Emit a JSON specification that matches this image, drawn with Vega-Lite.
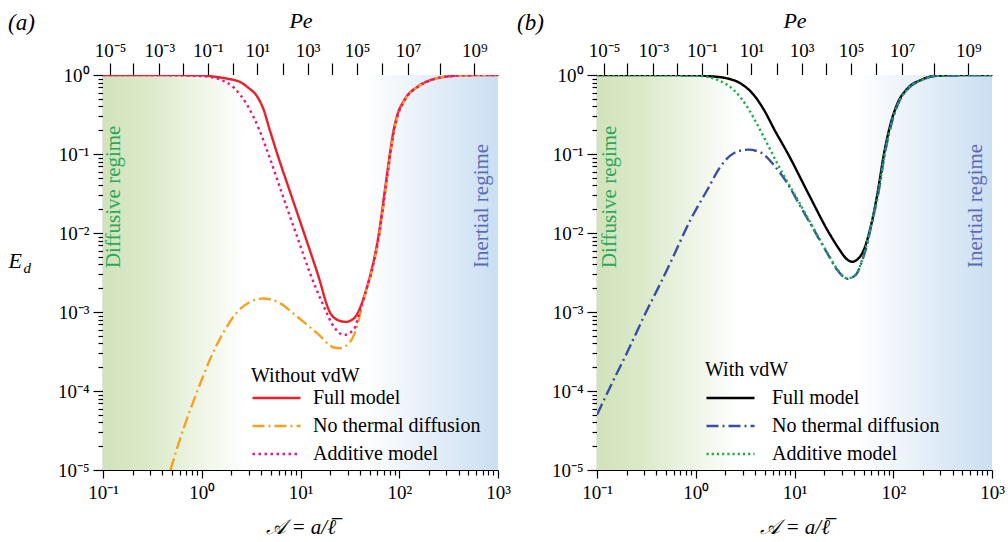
{
"$schema": "https://vega.github.io/schema/vega-lite/v6.json",
"padding": {"left": 8, "top": 9, "right": 0, "bottom": 4},
"background": "white",
"config": {
 "font": "Liberation Serif",
 "view": {"stroke": null},
 "axis": {"labelFont": "Liberation Serif", "titleFont": "Liberation Serif", "labelColor": "black", "titleColor": "black", "domainColor": "black", "tickColor": "black", "grid": false, "labelFontSize": 19, "titleFontSize": 21, "titleFontWeight": "normal", "zindex": 1, "labelFlush": false, "labelOverlap": false, "tickWidth": 1.2, "domainWidth": 1.2},
 "legend": {"labelFont": "Liberation Serif", "titleFont": "Liberation Serif", "labelFontSize": 20, "titleFontSize": 20, "titleFontWeight": "normal", "labelColor": "black", "titleColor": "black", "symbolType": "stroke", "symbolSize": 2304, "symbolStrokeWidth": 2.5, "padding": 0, "rowPadding": 8, "clipHeight": 20, "labelLimit": 0},
 "title": {"font": "Liberation Serif", "fontSize": 23, "fontWeight": "normal", "fontStyle": "italic", "color": "black"}
},
"datasets": {
 "bg": [{"A0": 0.1, "A1": 1000, "E0": 0.00001, "E1": 1}],
 "labels": [
  {"p": "a", "label": "Diffusive regime", "A": 0.13, "E": 0.0036},
  {"p": "a", "label": "Inertial regime", "A": 695, "E": 0.0036},
  {"p": "b", "label": "Diffusive regime", "A": 0.134, "E": 0.0036},
  {"p": "b", "label": "Inertial regime", "A": 690, "E": 0.0036}
 ],
 "curves": [
  {"p":"a","s":"Full model","A":0.1,"E":1},
  {"p":"a","s":"Full model","A":0.316,"E":1},
  {"p":"a","s":"Full model","A":1,"E":0.989},
  {"p":"a","s":"Full model","A":1.318,"E":0.955},
  {"p":"a","s":"Full model","A":1.778,"E":0.902},
  {"p":"a","s":"Full model","A":2.455,"E":0.813},
  {"p":"a","s":"Full model","A":2.951,"E":0.692},
  {"p":"a","s":"Full model","A":3.631,"E":0.537},
  {"p":"a","s":"Full model","A":4.266,"E":0.355},
  {"p":"a","s":"Full model","A":4.786,"E":0.219},
  {"p":"a","s":"Full model","A":5.821,"E":0.1},
  {"p":"a","s":"Full model","A":7.943,"E":0.0316},
  {"p":"a","s":"Full model","A":10.86,"E":0.01},
  {"p":"a","s":"Full model","A":14.79,"E":0.00316},
  {"p":"a","s":"Full model","A":20.18,"E":0.000955},
  {"p":"a","s":"Full model","A":22.91,"E":0.000813},
  {"p":"a","s":"Full model","A":28.64,"E":0.00075},
  {"p":"a","s":"Full model","A":34.83,"E":0.000832},
  {"p":"a","s":"Full model","A":40.64,"E":0.001175},
  {"p":"a","s":"Full model","A":45.71,"E":0.00182},
  {"p":"a","s":"Full model","A":51.4,"E":0.00309},
  {"p":"a","s":"Full model","A":62.37,"E":0.01},
  {"p":"a","s":"Full model","A":70.79,"E":0.0316},
  {"p":"a","s":"Full model","A":80.35,"E":0.1},
  {"p":"a","s":"Full model","A":87.1,"E":0.1905},
  {"p":"a","s":"Full model","A":94.41,"E":0.295},
  {"p":"a","s":"Full model","A":112.2,"E":0.479},
  {"p":"a","s":"Full model","A":153.1,"E":0.711},
  {"p":"a","s":"Full model","A":208.9,"E":0.865},
  {"p":"a","s":"Full model","A":309,"E":0.959},
  {"p":"a","s":"Full model","A":489.8,"E":0.993},
  {"p":"a","s":"Full model","A":1000,"E":1},

  {"p":"a","s":"No thermal diffusion","A":0.482,"E":0.00001},
  {"p":"a","s":"No thermal diffusion","A":0.656,"E":0.0000339},
  {"p":"a","s":"No thermal diffusion","A":0.897,"E":0.0000977},
  {"p":"a","s":"No thermal diffusion","A":1.225,"E":0.000259},
  {"p":"a","s":"No thermal diffusion","A":1.671,"E":0.000562},
  {"p":"a","s":"No thermal diffusion","A":2.286,"E":0.001},
  {"p":"a","s":"No thermal diffusion","A":3.119,"E":0.001349},
  {"p":"a","s":"No thermal diffusion","A":4.169,"E":0.001479},
  {"p":"a","s":"No thermal diffusion","A":5.821,"E":0.001349},
  {"p":"a","s":"No thermal diffusion","A":9.268,"E":0.000871},
  {"p":"a","s":"No thermal diffusion","A":14.79,"E":0.000537},
  {"p":"a","s":"No thermal diffusion","A":21.83,"E":0.000355},
  {"p":"a","s":"No thermal diffusion","A":25.12,"E":0.000347},
  {"p":"a","s":"No thermal diffusion","A":28.84,"E":0.000372},
  {"p":"a","s":"No thermal diffusion","A":34.83,"E":0.000513},
  {"p":"a","s":"No thermal diffusion","A":40.74,"E":0.001},
  {"p":"a","s":"No thermal diffusion","A":45.71,"E":0.00174},
  {"p":"a","s":"No thermal diffusion","A":52.17,"E":0.00309},
  {"p":"a","s":"No thermal diffusion","A":63.3,"E":0.01},
  {"p":"a","s":"No thermal diffusion","A":71.85,"E":0.0316},
  {"p":"a","s":"No thermal diffusion","A":81.56,"E":0.1},
  {"p":"a","s":"No thermal diffusion","A":88.4,"E":0.1905},
  {"p":"a","s":"No thermal diffusion","A":95.83,"E":0.295},
  {"p":"a","s":"No thermal diffusion","A":113.9,"E":0.479},
  {"p":"a","s":"No thermal diffusion","A":155.4,"E":0.711},
  {"p":"a","s":"No thermal diffusion","A":212,"E":0.865},
  {"p":"a","s":"No thermal diffusion","A":313.6,"E":0.959},
  {"p":"a","s":"No thermal diffusion","A":497.1,"E":0.993},
  {"p":"a","s":"No thermal diffusion","A":1000,"E":1},

  {"p":"a","s":"Additive model","A":0.1,"E":1},
  {"p":"a","s":"Additive model","A":0.316,"E":0.998},
  {"p":"a","s":"Additive model","A":1,"E":0.97},
  {"p":"a","s":"Additive model","A":1.549,"E":0.871},
  {"p":"a","s":"Additive model","A":2.113,"E":0.692},
  {"p":"a","s":"Additive model","A":2.884,"E":0.417},
  {"p":"a","s":"Additive model","A":3.784,"E":0.209},
  {"p":"a","s":"Additive model","A":4.977,"E":0.0832},
  {"p":"a","s":"Additive model","A":6.792,"E":0.0269},
  {"p":"a","s":"Additive model","A":9.268,"E":0.00891},
  {"p":"a","s":"Additive model","A":12.59,"E":0.00302},
  {"p":"a","s":"Additive model","A":17.26,"E":0.00117},
  {"p":"a","s":"Additive model","A":21.83,"E":0.000646},
  {"p":"a","s":"Additive model","A":27.54,"E":0.000513},
  {"p":"a","s":"Additive model","A":34.67,"E":0.000603},
  {"p":"a","s":"Additive model","A":40.74,"E":0.00112},
  {"p":"a","s":"Additive model","A":45.71,"E":0.0018},
  {"p":"a","s":"Additive model","A":51.91,"E":0.00309},
  {"p":"a","s":"Additive model","A":62.99,"E":0.01},
  {"p":"a","s":"Additive model","A":71.5,"E":0.0316},
  {"p":"a","s":"Additive model","A":81.15,"E":0.1},
  {"p":"a","s":"Additive model","A":87.97,"E":0.1905},
  {"p":"a","s":"Additive model","A":95.35,"E":0.295},
  {"p":"a","s":"Additive model","A":113.3,"E":0.479},
  {"p":"a","s":"Additive model","A":154.6,"E":0.711},
  {"p":"a","s":"Additive model","A":211,"E":0.865},
  {"p":"a","s":"Additive model","A":312,"E":0.959},
  {"p":"a","s":"Additive model","A":494.7,"E":0.993},
  {"p":"a","s":"Additive model","A":1000,"E":1},

  {"p":"b","s":"Full model","A":0.1,"E":1},
  {"p":"b","s":"Full model","A":1,"E":0.993},
  {"p":"b","s":"Full model","A":1.306,"E":0.971},
  {"p":"b","s":"Full model","A":2.08,"E":0.906},
  {"p":"b","s":"Full model","A":2.838,"E":0.783},
  {"p":"b","s":"Full model","A":3.873,"E":0.558},
  {"p":"b","s":"Full model","A":4.898,"E":0.363},
  {"p":"b","s":"Full model","A":6.31,"E":0.1995},
  {"p":"b","s":"Full model","A":8.61,"E":0.1},
  {"p":"b","s":"Full model","A":13.8,"E":0.0316},
  {"p":"b","s":"Full model","A":22.39,"E":0.01},
  {"p":"b","s":"Full model","A":28.18,"E":0.00631},
  {"p":"b","s":"Full model","A":33.11,"E":0.00479},
  {"p":"b","s":"Full model","A":38.55,"E":0.00432},
  {"p":"b","s":"Full model","A":43.65,"E":0.00468},
  {"p":"b","s":"Full model","A":48.75,"E":0.00562},
  {"p":"b","s":"Full model","A":59.16,"E":0.012},
  {"p":"b","s":"Full model","A":69.18,"E":0.0316},
  {"p":"b","s":"Full model","A":80.72,"E":0.102},
  {"p":"b","s":"Full model","A":94.41,"E":0.245},
  {"p":"b","s":"Full model","A":110.4,"E":0.437},
  {"p":"b","s":"Full model","A":139.3,"E":0.676},
  {"p":"b","s":"Full model","A":190.5,"E":0.865},
  {"p":"b","s":"Full model","A":257,"E":0.971},
  {"p":"b","s":"Full model","A":398,"E":0.993},
  {"p":"b","s":"Full model","A":1000,"E":1},

  {"p":"b","s":"No thermal diffusion","A":0.1,"E":0.0000501},
  {"p":"b","s":"No thermal diffusion","A":0.13,"E":0.0001},
  {"p":"b","s":"No thermal diffusion","A":0.204,"E":0.000316},
  {"p":"b","s":"No thermal diffusion","A":0.314,"E":0.001},
  {"p":"b","s":"No thermal diffusion","A":0.407,"E":0.001905},
  {"p":"b","s":"No thermal diffusion","A":0.562,"E":0.00437},
  {"p":"b","s":"No thermal diffusion","A":0.883,"E":0.01462},
  {"p":"b","s":"No thermal diffusion","A":1.306,"E":0.035},
  {"p":"b","s":"No thermal diffusion","A":1.778,"E":0.0692},
  {"p":"b","s":"No thermal diffusion","A":2.427,"E":0.1023},
  {"p":"b","s":"No thermal diffusion","A":3.388,"E":0.1135},
  {"p":"b","s":"No thermal diffusion","A":4.529,"E":0.1047},
  {"p":"b","s":"No thermal diffusion","A":6.18,"E":0.0724},
  {"p":"b","s":"No thermal diffusion","A":8.453,"E":0.0427},
  {"p":"b","s":"No thermal diffusion","A":11.53,"E":0.02153},
  {"p":"b","s":"No thermal diffusion","A":15.74,"E":0.01096},
  {"p":"b","s":"No thermal diffusion","A":21.53,"E":0.0055},
  {"p":"b","s":"No thermal diffusion","A":27.16,"E":0.00339},
  {"p":"b","s":"No thermal diffusion","A":34.28,"E":0.00263},
  {"p":"b","s":"No thermal diffusion","A":41.69,"E":0.00295},
  {"p":"b","s":"No thermal diffusion","A":48.75,"E":0.00457},
  {"p":"b","s":"No thermal diffusion","A":54.95,"E":0.0076},
  {"p":"b","s":"No thermal diffusion","A":59.16,"E":0.0117},
  {"p":"b","s":"No thermal diffusion","A":70.56,"E":0.0316},
  {"p":"b","s":"No thermal diffusion","A":82.33,"E":0.102},
  {"p":"b","s":"No thermal diffusion","A":96.3,"E":0.245},
  {"p":"b","s":"No thermal diffusion","A":112.6,"E":0.437},
  {"p":"b","s":"No thermal diffusion","A":142.1,"E":0.676},
  {"p":"b","s":"No thermal diffusion","A":194.3,"E":0.865},
  {"p":"b","s":"No thermal diffusion","A":262.1,"E":0.971},
  {"p":"b","s":"No thermal diffusion","A":406,"E":0.993},
  {"p":"b","s":"No thermal diffusion","A":1000,"E":1},

  {"p":"b","s":"Additive model","A":0.1,"E":1},
  {"p":"b","s":"Additive model","A":1,"E":0.986},
  {"p":"b","s":"Additive model","A":1.648,"E":0.871},
  {"p":"b","s":"Additive model","A":2.427,"E":0.646},
  {"p":"b","s":"Additive model","A":3.311,"E":0.398},
  {"p":"b","s":"Additive model","A":4.169,"E":0.24},
  {"p":"b","s":"Additive model","A":5.297,"E":0.135},
  {"p":"b","s":"Additive model","A":6.699,"E":0.0759},
  {"p":"b","s":"Additive model","A":8.453,"E":0.0447},
  {"p":"b","s":"Additive model","A":10.72,"E":0.0266},
  {"p":"b","s":"Additive model","A":15.74,"E":0.01122},
  {"p":"b","s":"Additive model","A":21.53,"E":0.00562},
  {"p":"b","s":"Additive model","A":27.16,"E":0.00347},
  {"p":"b","s":"Additive model","A":34.28,"E":0.00266},
  {"p":"b","s":"Additive model","A":41.69,"E":0.00299},
  {"p":"b","s":"Additive model","A":48.75,"E":0.00468},
  {"p":"b","s":"Additive model","A":54.95,"E":0.00794},
  {"p":"b","s":"Additive model","A":59.16,"E":0.012},
  {"p":"b","s":"Additive model","A":70.22,"E":0.0316},
  {"p":"b","s":"Additive model","A":81.93,"E":0.102},
  {"p":"b","s":"Additive model","A":95.83,"E":0.245},
  {"p":"b","s":"Additive model","A":112.1,"E":0.437},
  {"p":"b","s":"Additive model","A":141.4,"E":0.676},
  {"p":"b","s":"Additive model","A":193.4,"E":0.865},
  {"p":"b","s":"Additive model","A":260.9,"E":0.971},
  {"p":"b","s":"Additive model","A":404,"E":0.993},
  {"p":"b","s":"Additive model","A":1000,"E":1}
 ]
},
"bounds": "flush",
"spacing": 99,
"resolve": {"scale": {"color": "independent", "strokeDash": "independent"}, "legend": {"color": "independent", "strokeDash": "independent"}},
"hconcat": [
 {
  "width": 395, "height": 395,
  "title": {"text": "(a)", "anchor": "start", "frame": "group", "dx": -95, "dy": 30},
  "resolve": {"axis": {"x": "independent", "y": "independent"}},
  "layer": [
   {
    "data": {"name": "bg"},
    "mark": {"type": "rect", "fill": {"gradient": "linear", "x1": 0, "y1": 0, "x2": 1, "y2": 0, "stops": [{"offset": 0, "color": "#d1e3ba"}, {"offset": 0.12, "color": "#dceacb"}, {"offset": 0.36, "color": "#ffffff"}, {"offset": 0.66, "color": "#ffffff"}, {"offset": 0.82, "color": "#e6eff8"}, {"offset": 1, "color": "#cadff2"}]}},
    "encoding": {
     "x": {"field": "A0", "type": "quantitative", "scale": {"type": "log", "domain": [0.1, 1000], "nice": false}, "axis": {"orient": "bottom", "values": [0.2,0.3,0.4,0.5,0.6,0.7,0.8,0.9,2,3,4,5,6,7,8,9,20,30,40,50,60,70,80,90,200,300,400,500,600,700,800,900], "labels": false, "domain": false, "tickSize": 5, "title": null}},
     "x2": {"field": "A1"},
     "y": {"field": "E0", "type": "quantitative", "scale": {"type": "log", "domain": [0.00001, 1], "nice": false}, "axis": {"orient": "left", "values": [0.00002,0.00003,0.00004,0.00005,0.00006,0.00007,0.00008,0.00009,0.0002,0.0003,0.0004,0.0005,0.0006,0.0007,0.0008,0.0009,0.002,0.003,0.004,0.005,0.006,0.007,0.008,0.009,0.02,0.03,0.04,0.05,0.06,0.07,0.08,0.09,0.2,0.3,0.4,0.5,0.6,0.7,0.8,0.9], "labels": false, "domain": false, "tickSize": 5, "title": "d", "titleAngle": 0, "titleAlign": "left", "titleBaseline": "middle", "titleX": -80, "titleY": 192, "titleFontSize": 15, "titleFontStyle": "italic"}},
     "y2": {"field": "E1"}
    }
   },
   {
    "data": {"name": "curves"},
    "transform": [{"filter": "datum.p === 'a'"}],
    "mark": {"type": "line", "strokeWidth": 2.4, "clip": true, "interpolate": "monotone"},
    "encoding": {
     "x": {"field": "A", "type": "quantitative", "scale": {"type": "log", "domain": [0.1, 1000], "nice": false}, "axis": {"orient": "bottom", "values": [0.1, 1, 10, 100, 1000], "labelExpr": "'10' + (datum.value < 0.5 ? '⁻¹' : datum.value < 5 ? '⁰' : datum.value < 50 ? '¹' : datum.value < 500 ? '²' : '³')", "tickSize": 8, "labelPadding": 5, "title": "𝒜 = a/ℓ̅", "titleFontStyle": "italic", "titlePadding": 14}},
     "y": {"field": "E", "type": "quantitative", "scale": {"type": "log", "domain": [0.00001, 1], "nice": false}, "axis": {"orient": "left", "values": [0.00001, 0.0001, 0.001, 0.01, 0.1, 1], "labelExpr": "'10' + (datum.value > 0.5 ? '⁰' : datum.value > 0.05 ? '⁻¹' : datum.value > 0.005 ? '⁻²' : datum.value > 0.0005 ? '⁻³' : datum.value > 0.00005 ? '⁻⁴' : '⁻⁵')", "tickSize": 10, "labelPadding": 4, "title": "E", "titleAngle": 0, "titleAlign": "left", "titleBaseline": "middle", "titleX": -95, "titleY": 185, "titleFontSize": 22, "titleFontStyle": "italic"}},
     "color": {"field": "s", "type": "nominal", "scale": {"domain": ["Full model", "No thermal diffusion", "Additive model"], "range": ["#e8202a", "#f6a21e", "#e8177d"]}, "legend": {"title": "Without vdW", "orient": "none", "legendX": 148, "legendY": 291, "titlePadding": 2, "labelOffset": 11}},
     "strokeDash": {"field": "s", "type": "nominal", "scale": {"domain": ["Full model", "No thermal diffusion", "Additive model"], "range": [[1, 0], [12, 4, 2, 4], [2.5, 3.5]]}, "legend": {"title": "Without vdW", "orient": "none", "legendX": 148, "legendY": 291, "titlePadding": 2, "labelOffset": 11}}
    }
   },
   {
    "data": {"name": "labels"},
    "transform": [{"filter": "datum.p === 'a'"}],
    "mark": {"type": "text", "angle": 270, "align": "left", "baseline": "middle", "fontSize": 21, "font": "Liberation Serif"},
    "encoding": {
     "x": {"field": "A", "type": "quantitative", "scale": {"type": "log", "domain": [0.1, 1000], "nice": false}, "axis": {"orient": "top", "values": [0.118, 0.201, 0.371, 0.644, 1.15, 2.06, 3.65, 6.70, 11.8, 20.8, 37.5, 66.5, 123, 261, 576], "labelExpr": "datum.value < 0.15 ? '10⁻⁵' : datum.value > 0.3 && datum.value < 0.45 ? '10⁻³' : datum.value > 1 && datum.value < 1.3 ? '10⁻¹' : datum.value > 3 && datum.value < 4.5 ? '10¹' : datum.value > 10 && datum.value < 14 ? '10³' : datum.value > 30 && datum.value < 45 ? '10⁵' : datum.value > 100 && datum.value < 150 ? '10⁷' : datum.value > 400 ? '10⁹' : ''", "tickSize": 12, "labelPadding": 3, "title": "Pe", "titleFontStyle": "italic", "titleFontSize": 22, "titlePadding": 9}},
     "y": {"field": "E", "type": "quantitative", "scale": {"type": "log", "domain": [0.00001, 1], "nice": false}, "axis": null},
     "text": {"field": "label"},
     "fill": {"field": "label", "type": "nominal", "scale": {"domain": ["Diffusive regime", "Inertial regime"], "range": ["#2aa85c", "#5b6bb5"]}, "legend": null}
    }
   }
  ]
 },
 {
  "width": 395, "height": 395,
  "title": {"text": "(b)", "anchor": "start", "frame": "group", "dx": -80, "dy": 30},
  "resolve": {"axis": {"x": "independent", "y": "independent"}},
  "layer": [
   {
    "data": {"name": "bg"},
    "mark": {"type": "rect", "fill": {"gradient": "linear", "x1": 0, "y1": 0, "x2": 1, "y2": 0, "stops": [{"offset": 0, "color": "#d1e3ba"}, {"offset": 0.12, "color": "#dceacb"}, {"offset": 0.36, "color": "#ffffff"}, {"offset": 0.66, "color": "#ffffff"}, {"offset": 0.82, "color": "#e6eff8"}, {"offset": 1, "color": "#cadff2"}]}},
    "encoding": {
     "x": {"field": "A0", "type": "quantitative", "scale": {"type": "log", "domain": [0.1, 1000], "nice": false}, "axis": {"orient": "bottom", "values": [0.2,0.3,0.4,0.5,0.6,0.7,0.8,0.9,2,3,4,5,6,7,8,9,20,30,40,50,60,70,80,90,200,300,400,500,600,700,800,900], "labels": false, "domain": false, "tickSize": 5, "title": null}},
     "x2": {"field": "A1"},
     "y": {"field": "E0", "type": "quantitative", "scale": {"type": "log", "domain": [0.00001, 1], "nice": false}, "axis": {"orient": "left", "values": [0.00002,0.00003,0.00004,0.00005,0.00006,0.00007,0.00008,0.00009,0.0002,0.0003,0.0004,0.0005,0.0006,0.0007,0.0008,0.0009,0.002,0.003,0.004,0.005,0.006,0.007,0.008,0.009,0.02,0.03,0.04,0.05,0.06,0.07,0.08,0.09,0.2,0.3,0.4,0.5,0.6,0.7,0.8,0.9], "labels": false, "domain": false, "tickSize": 5, "title": null}},
     "y2": {"field": "E1"}
    }
   },
   {
    "data": {"name": "curves"},
    "transform": [{"filter": "datum.p === 'b'"}],
    "mark": {"type": "line", "strokeWidth": 2.4, "clip": true, "interpolate": "monotone"},
    "encoding": {
     "x": {"field": "A", "type": "quantitative", "scale": {"type": "log", "domain": [0.1, 1000], "nice": false}, "axis": {"orient": "bottom", "values": [0.1, 1, 10, 100, 1000], "labelExpr": "'10' + (datum.value < 0.5 ? '⁻¹' : datum.value < 5 ? '⁰' : datum.value < 50 ? '¹' : datum.value < 500 ? '²' : '³')", "tickSize": 8, "labelPadding": 5, "title": "𝒜 = a/ℓ̅", "titleFontStyle": "italic", "titlePadding": 14}},
     "y": {"field": "E", "type": "quantitative", "scale": {"type": "log", "domain": [0.00001, 1], "nice": false}, "axis": {"orient": "left", "values": [0.00001, 0.0001, 0.001, 0.01, 0.1, 1], "labelExpr": "'10' + (datum.value > 0.5 ? '⁰' : datum.value > 0.05 ? '⁻¹' : datum.value > 0.005 ? '⁻²' : datum.value > 0.0005 ? '⁻³' : datum.value > 0.00005 ? '⁻⁴' : '⁻⁵')", "tickSize": 10, "labelPadding": 4, "title": null}},
     "color": {"field": "s", "type": "nominal", "scale": {"domain": ["Full model", "No thermal diffusion", "Additive model"], "range": ["#000000", "#3b4ea3", "#16ad4b"]}, "legend": {"title": "With vdW", "orient": "none", "legendX": 108, "legendY": 285, "titlePadding": 8, "labelOffset": 16}},
     "strokeDash": {"field": "s", "type": "nominal", "scale": {"domain": ["Full model", "No thermal diffusion", "Additive model"], "range": [[1, 0], [12, 4, 2, 4], [2.2, 3]]}, "legend": {"title": "With vdW", "orient": "none", "legendX": 108, "legendY": 285, "titlePadding": 8, "labelOffset": 16}}
    }
   },
   {
    "data": {"name": "labels"},
    "transform": [{"filter": "datum.p === 'b'"}],
    "mark": {"type": "text", "angle": 270, "align": "left", "baseline": "middle", "fontSize": 21, "font": "Liberation Serif"},
    "encoding": {
     "x": {"field": "A", "type": "quantitative", "scale": {"type": "log", "domain": [0.1, 1000], "nice": false}, "axis": {"orient": "top", "values": [0.118, 0.201, 0.371, 0.644, 1.15, 2.06, 3.65, 6.70, 11.8, 20.8, 37.5, 66.5, 123, 261, 576], "labelExpr": "datum.value < 0.15 ? '10⁻⁵' : datum.value > 0.3 && datum.value < 0.45 ? '10⁻³' : datum.value > 1 && datum.value < 1.3 ? '10⁻¹' : datum.value > 3 && datum.value < 4.5 ? '10¹' : datum.value > 10 && datum.value < 14 ? '10³' : datum.value > 30 && datum.value < 45 ? '10⁵' : datum.value > 100 && datum.value < 150 ? '10⁷' : datum.value > 400 ? '10⁹' : ''", "tickSize": 12, "labelPadding": 3, "title": "Pe", "titleFontStyle": "italic", "titleFontSize": 22, "titlePadding": 9}},
     "y": {"field": "E", "type": "quantitative", "scale": {"type": "log", "domain": [0.00001, 1], "nice": false}, "axis": null},
     "text": {"field": "label"},
     "fill": {"field": "label", "type": "nominal", "scale": {"domain": ["Diffusive regime", "Inertial regime"], "range": ["#2aa85c", "#5b6bb5"]}, "legend": null}
    }
   }
  ]
 }
]
}
